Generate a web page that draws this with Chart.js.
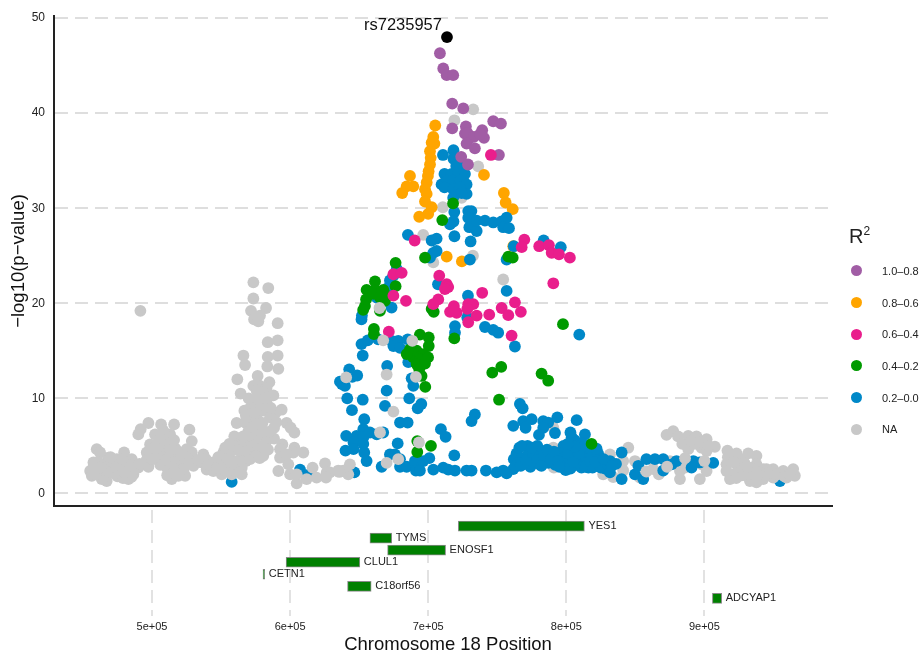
<!DOCTYPE html>
<html>
<head>
<meta charset="utf-8">
<title>Chromosome 18 regional association plot</title>
<script src="https://cdn.jsdelivr.net/npm/chart.js@4"></script>
<style>
  body { margin: 0; background: #fff; }
  #wrap { position: relative; width: 920px; height: 655px; font-family: "Liberation Sans", Arial, sans-serif; }
  #topBox { position: absolute; left: 0; top: 0; width: 920px; height: 522px; }
  #geneBox { position: absolute; left: 0; top: 505px; width: 920px; height: 150px; }
  #legend { position: absolute; left: 849px; top: 226px; color: #222; }
  #legend .ttl { font-size: 20px; height: 29px; line-height: 20px; }
  #legend .ttl sup { font-size: 12px; line-height: 0; }
  #legend .row { height: 31.7px; display: flex; align-items: center; font-size: 11px; }
  #legend .dot { width: 11px; height: 11px; border-radius: 50%; margin: 0 20px 0 2px; }
</style>
</head>
<body>
<div id="wrap">
  <div id="topBox"><canvas id="assocChart"></canvas></div>
  <div id="geneBox"><canvas id="geneChart"></canvas></div>
  <div id="legend"></div>
</div>
<script>
// all positions are [kb, -log10 p]
const leadSnp = [[713.6, 48.0]];
const leadName = "rs7235957";

const purple = [[708.5,46.3],[710.9,44.7],[713.4,44.0],[718.1,44.0],[717.4,41.0],[725.4,40.5],[717.4,38.4],[727.3,38.6],[726.6,37.85],
  [730.2,37.4],[728.5,37.9],[733.1,37.5],[739.1,38.2],[740.4,37.4],[737.5,37.8],[727.8,36.8],[733.8,36.3],[747.1,39.15],[752.7,38.9],
  [751.2,35.6],[723.9,35.4],[728.8,34.6]];

const orange = [[705.1,38.7],[703.7,37.5],[702.5,36.9],[704.5,36.8],[701.3,36.0],[701.8,35.3],[701.3,34.6],[700.3,33.9],[699.8,33.4],
  [686.8,33.4],[698.9,32.7],[697.7,32.0],[689.2,32.3],[684.4,32.3],[681.2,31.6],[698.9,31.5],[697.7,30.7],[702.5,30.1],[700,29.4],
  [693.5,29.1],[740.4,33.5],[754.8,31.6],[756.1,30.6],[761.2,29.9],[713.4,24.9],[724.4,24.4],[761.6,26.0]];

const pink = [[745.4,35.6],[690.2,26.6],[769.6,26.7],[767.7,25.9],[780.4,26],[787.4,26.1],[789.4,25.3],[794.7,25.15],[802.6,24.8],
  [674.8,23.05],[680.8,23.2],[674.8,20.8],[683.9,20.25],[708,22.9],[713.4,22],[714.5,21.7],[712.1,21.5],[707.3,20.4],[703.7,19.9],
  [790.6,22.1],[739.1,21.1],[762.8,20.1],[753.2,19.5],[758,18.75],[767.1,19.1],[744.2,18.8],[760.4,16.6],[729,19.9],[732.6,19.9],
  [728.3,19.4],[735.1,18.7],[729,18],[718.6,19.7],[715.8,19.1],[720.6,19],[718.6,19.2],[671.5,17]];

const green = [[718,30.5],[710.2,28.75],[697.7,24.8],[758,24.9],[761.2,24.8],[676.4,24.25],[661.5,22.3],[655.4,21.4],[661.5,21.4],[667.5,21.4],
  [676.4,21.8],[655,20.4],[660.3,21],[665.1,20.6],[670,20.8],[668.7,20.25],[654.2,19.7],[652.9,19.3],[665.1,19.2],[660.7,17.3],[660.7,16.75],
  [718.9,16.3],[797.6,17.8],[704,19.1],[702.5,19.4],[752.9,13.3],[746.4,12.7],[782.1,12.6],[786.9,11.85],[751.3,9.85],[697.9,11.2],
  [702,5],[692.1,5.5],[692.1,4.35],[818.3,5.2],[694,16.7],[700.4,16.4],[700.4,15.5],[686.8,15.15],[691.6,15],[696.4,14.65],[689.2,14.3],
  [694,14.1],[699.9,14.3],[691.6,13.6],[697.7,13.65],[693.5,13.05],[695.2,12.35],[684.4,14.65]];

const blue = [[710.7,35.6],[718.3,36.1],[718.3,35.2],[720.3,34.45],[725,34.6],[711.8,33.6],[717,33.6],[721.7,33.6],[726.6,33.6],
  [709.7,32.5],[713.4,32.9],[718.1,32.9],[723,32.9],[727.8,32.5],[711.8,32.2],[718.1,32],[723,32.2],[727.8,31.5],[718.1,31.1],[724.2,31.6],
  [718.9,29.6],[729,29.7],[731.3,29.7],[729,29],[718.3,28.6],[715.8,28.3],[729.8,28],[735.1,27.6],[735.1,28.7],[741.1,28.7],[747.1,28.5],
  [753.2,28.6],[756.8,29],[754.3,28],[758.5,27.9],[685.3,27.2],[719,27.05],[730.7,26.5],[702.5,26.6],[706.1,26.8],[703.7,25.3],[706.1,25.5],
  [701.3,24.8],[730.2,24.6],[756.8,24.6],[762,26],[783.6,26.6],[796,25.9],
  [677.2,23.6],[674.8,22.9],[672.3,22.4],[671.1,21.65],[662.7,20.6],[673.5,19.55],[651.7,18.3],[652,18.7],
  [707.1,22],[756.8,21.3],[728.8,20.8],[719.4,17.6],[719.4,16.9],[728.3,18.5],[741.1,17.5],[747.1,17.2],[750.7,16.9],[762.8,15.45],[809.4,16.7],
  [651.7,15.7],[656.2,16.1],[663.8,16.2],[673.5,16.05],[678.3,16.05],[685.2,16.2],[674.8,15.5],[679.6,15.3],[652.6,14.5],[670.3,13.4],
  [642.8,13.05],[648.6,12.4],[645,12.25],[636.1,11.75],[639.7,11.3],[637.5,11.5],[685.6,13.8],[688,12.1],[689.2,11.3],[669.9,10.8],
  [641.4,10],[652.6,9.85],[686.3,10],[668.7,9.2],[644.8,8.75],[695,9.4],[692.4,8.95],[733.8,8.3],[731.4,7.6],[653.7,7.8],[679.6,7.45],[685.1,7.45],
  [709.2,6.75],[712.6,5.95],[653,6.75],[657.8,6.4],[662.7,6.2],[667.4,6.4],[640.6,6.05],[648.1,6.05],[653,5.9],[645.9,5.35],[653,5.2],
  [640.1,4.5],[645.9,4.65],[653.7,4.3],[655.4,3.4],[677.9,5.25],[718.9,4],[666.3,2.8],[672.3,4.1],[675.9,4.1],[679.6,3.6],[679.6,2.8],[684.4,2.8],
  [690.4,3.4],[691.1,2.4],[694,2.4],[696.4,3.4],[700.8,3.7],[703.7,2.5],[710.9,2.7],[714.5,2.5],[719.4,2.4],[727.8,2.4],[731.4,2.4],[741.8,2.4],
  [749.6,2.2],[754.3,2.4],[756.8,2.1],[761.6,2.55],[646.5,2.2],[557.7,1.2],[607.2,2.5],[613.2,1.95],
  [766.4,9.4],[768.4,8.95],[761.6,7.1],[768.8,7.6],[774.9,7.8],[770.5,6.9],[783.3,7.6],[786.9,7.45],[793.5,8],[807.5,7.7],[783.3,6.9],[780.2,6.15],
  [791.8,6.35],[813.5,6.2],[803.9,5.9],[799.6,2.45],[799,2.55],
  [762,3.6],[764,4.2],[766,4.8],[768,3.7],[772,4],[775,3.6],[778,3.3],[780,3.9],[783,4.4],[785,3.5],[788,4.1],[790,3.3],[793,3.8],[796,4.2],
  [798,5],[800,3.6],[802,3],[804,4.4],[806,5.6],[808,3.7],[810,4.8],[812,3.3],[813,4.1],[815,3.6],[816,2.7],[818,4.6],[820,3.5],[822,2.9],
  [824,3.8],[826,3.2],[828,2.6],[765,3.2],[770,3.1],[774,2.8],[781,3],[787,3.2],[792,3],[797,3.1],[803,3.5],[807,3],[811,2.7],[814,2.8],[819,2.7],
  [763,2.8],[767,2.9],[771,3.5],[776,4.2],[779,3.5],[782,2.9],[784,4],[786,4.6],[789,3.6],[791,4.4],[794,3.4],[795,2.8],[799,4.5],[801,4.2],[803,2.6],
  [805,3.3],[809,4.2],[811,5.3],[807,5],[814,5.1],[817,3.4],[819,4],[823,4.2],[825,2.7],[821,3.3],[803,6.4],[806,4.9],[801,5.2],[829,3.2],[836,3.1],
  [772,5],[779,5],[768,5],[775,4.8],
  [821.9,4.7],[831.6,3.4],[831.6,2.2],[840.1,1.5],[849.7,2],[852.2,2.9],[858,3.6],[855.7,1.5],[864.2,3.6],[870.2,3.6],[870.2,2.4],[876.3,3.05],
  [879.8,3.4],[892,3.4],[896.7,3.25],[890.7,2.7],[906.4,3.2],[954.7,1.3],[840.1,4.3],[827,3.6],[833,2.9]];

// grey dots that sit behind everything else
const naBack = [[732.6,40.4],[719,39.25],[736.2,34.4],[710.6,30.1],[696.4,27.2],[732.4,25],[724.2,31.1],[703.7,24.3],[754.3,22.5],[790.6,4.8],
  [791,2.7],[790.6,6.9],[815.7,4.3],[844.9,4.8],[831.6,4.1],[841.2,3.4],[841.2,2.4],[826.7,2],[834,1.7],[849.7,3.4],[853.3,1.65],[862.9,3.4],
  [862.9,2.55],[867,2],[875,3.4],[882.3,2.35],[882.3,1.5],[885.9,2.7],[896.7,1.5],[901.6,2.35],[898,3.05]];

// grey dots that cover the blue ones
const naFront = [[664.7,19.5],[667.4,16.1],[688.5,16.05],[691.1,12.25],[669.9,12.5],[640.6,12.2],[674.8,8.6],[665.1,6.4],[693.3,5.35],[669.9,3.2],
  [678.3,3.6],[642.1,2],[638.5,2.4],[643.3,3.05],[634.9,2.4],[628.9,2.2],
  [491.6,19.2],[573.4,22.2],[584.2,21.6],[573.4,20.5],[582.6,19.5],[571.7,19.2],[578.2,18.7],[573.9,18.3],[577,18.1],[591,17.9],[591,16.1],[583.8,15.9],
  [591,14.5],[583.8,14.35],[566.2,14.5],[567.4,13.5],[583.5,13.35],[591.5,13.1],[561.8,12],[576.5,12.35],[585,11.7],[573.4,11.3],[578.2,11.3],[583,11.1],
  [575.8,10.8],[580.6,10.6],[564.2,10.5],[587.9,10.3],[573.4,9.7],[578.2,9.4],[583,9.55],[571,9],[575.8,8.85],[580.6,8.7],[566.9,8.7],[593.9,8.8],[589.6,8.5],
  [575.8,8],[571,7.6],[585.5,8],[561.3,7.4],[567.4,7.45],[597.5,7.4],[600.4,6.9],[603.1,6.4],[588.4,6.9],[497.4,7.4],[491.8,6.75],[490.1,6.2],[506.6,7.25],
  [516,7.25],[527.1,6.7],[528.8,5.5],[513.1,6.2],[502.2,6.2],[508.2,6.6],[569.8,6.55],[575.8,6.2],[559.6,6],[580.6,6.05],[588.4,5.75],[571,5.5],[561.3,5.15],
  [566.2,5.15],[575.8,5.15],[580.6,5],[594.4,5.15],[603.1,4.8],[498.6,5.15],[503.4,5.15],[508.2,5.15],[513.1,5.15],[496.2,4.3],[501,4.3],[505.8,4.45],[510.7,4.3],
  [515.5,4.1],[520.3,4.3],[525.1,4.65],[528.8,4.3],[479.8,4.3],[460,4.65],[462.4,4.3],[468.4,3.75],[474.5,3.6],[485.3,3.6],[457.6,3.25],[464.8,3.05],[472,2.9],
  [479,3.4],[455.2,2.35],[456.4,1.85],[460,2.35],[464.8,2],[468.4,2.35],[473.3,2.35],[478.1,2.7],[484.1,2.7],[486.5,2],[482.9,1.5],[467.2,1.3],[463.6,1.5],
  [476.9,2],[490.1,2.7],[457.6,2.7],[470,3],[482,3],[496.2,3.55],[497.4,2.8],[510.7,2.7],[508.2,3.4],[515.5,3.25],[521.5,3.25],[525.1,3.75],[530,2.9],[513.1,2],
  [514.3,1.5],[519.1,1.85],[524,1.85],[537.2,4.1],[536,3.25],[539.6,2.5],[544.4,3.25],[544.4,2.35],[551.7,4.3],[550.5,3.4],[550.5,2],[556.5,2.7],[557.7,2],[565,2],
  [565,2.7],[561.3,3.4],[556.5,4.3],[566.2,3.95],[571,4.1],[580.6,3.95],[559.4,5],[592.7,4.65],[592.7,3.75],[602.4,4.3],[597.5,4.1],[609.6,4.3],[598.7,3.05],
  [591.5,2.35],[600,2],[604.8,1.05],[612,1.5],[604.8,2],[616.3,2.7],[619.2,1.65],[625.3,3.15],[626.5,2.2],[626,1.65],[635.6,2.25],
  [458,3],[461,3.3],[466,2.5],[470,2.2],[474,3],[478,3.6],[481,2.3],[485,3],[488,2.6],[491,3.1],[459,2],[462,2.7],[475,1.8],[479,1.6],[485,1.7],[470,3.8],[480,2.2],
  [499,4.6],[503,3.6],[506,3],[510,3.5],[512,4.8],[517,4.7],[518,3.2],[522,4],[519,2.6],[523,2.6],[514,2.7],[511,1.9],[516,2.3],[500,3.6],[505,5],[510,5.6],[516,5.6],
  [506,5.8],[527,3.4],[533,3.5],[539,3.6],[541,3],[547,2.7],[548,3.8],[553,3],[553,2.4],[555,3.6],[558,3],[560,2.4],[563,2.2],[553,4.8],[556,5.2],[563,4.5],[568,3.4],
  [570,4.8],[573,5],[577,4.6],[566,6],[572,6.3],[578,6.8],[583,5.5],[573,7],[580,7.4],[568,8.2],[574,8.5],[585,6.5],[571,3.6],[575,3.9],[584,4.6],[578,3.7],[586,9],
  [590,7.5],[581,9.3],[576,9.9],[570,10],[582,10],
  [877.4,6.55],[872.6,6.15],[880.9,6],[888.3,6.05],[894.3,6],[901.6,5.7],[893.1,5.2],[888.3,4.65],[897.9,4.8],[907.6,4.9],[901.6,4.45],[916.7,4.5],[923.3,4.2],
  [931.7,4.2],[937.7,3.95],[937.7,3.05],[916,3.05],[923.3,3.05],[916,2.35],[920.9,2],[926.9,2.35],[918.5,1.5],[933,1.65],[937.7,1.15],[942.6,1.5],[949.8,1.65],
  [957.1,2.35],[964.3,2.55],[965.5,1.85],[959.5,1.65],[949.8,2.55],[945,2.55],[942.6,2.55],[933,1.3],[930.5,1.85],[886,3.7],[900,3.4],[858,2.3],[873,2.8],
  [926,3.6],[929,3.2],[935,2.6],[940,2.2],[944,1.9],[948,2.2],[953,2],[958,1.8],[962,2],[917,3.8],[921,3.3],[927,1.9],[923,1.6],[938,2],[931,2.8],[884,5.2],[890,5.5],
  [897,5.4],[903,5]];

const geneNames = ["YES1", "TYMS", "ENOSF1", "CLUL1", "CETN1", "C18orf56", "ADCYAP1"];
const geneStart = [721.8, 657.8, 670.6, 597.1, 580.4, 641.6, 905.8];
const geneEnd = [813.1, 673.6, 712.6, 650.5, 581.6, 658.7, 912.5];

const xTickValues = [500000, 600000, 700000, 800000, 900000];
const yTitle = "\u2212log10(p\u2212value)";
const xTitle = "Chromosome 18 Position";
const legendTitle = "R";
const legendLabels = ["1.0\u20130.8", "0.8\u20130.6", "0.6\u20130.4", "0.4\u20130.2", "0.2\u20130.0", "NA"];
const legendColors = ["#a15da5", "#ffa500", "#e91e8c", "#009a00", "#0088c8", "#c8c8c8"];

const FONT = '"Liberation Sans", Arial, sans-serif';
const X_MIN = 429040;
const X_MAX = 992400;

function toPoints(list) {
  return list.map(p => ({ x: p[0] * 1000, y: p[1] }));
}

function dots(label, list, color) {
  return { label: label, data: toPoints(list), backgroundColor: color, borderWidth: 0, pointRadius: 5.9, pointHoverRadius: 5.9 };
}

// name next to the lead snp
const leadLabel = {
  id: "leadLabel",
  afterDatasetsDraw(chart) {
    const px = chart.scales.x.getPixelForValue(leadSnp[0][0] * 1000);
    const py = chart.scales.y.getPixelForValue(leadSnp[0][1]);
    const ctx = chart.ctx;
    ctx.save();
    ctx.font = "16.5px " + FONT;
    ctx.fillStyle = "#111";
    ctx.textAlign = "right";
    ctx.textBaseline = "middle";
    ctx.fillText(leadName, px - 5, py - 12);
    ctx.restore();
  }
};

// gene names beside the bars, and the axis title which sits a bit right of centre
const geneLabels = {
  id: "geneLabels",
  afterDatasetsDraw(chart) {
    const ctx = chart.ctx;
    ctx.save();
    ctx.font = "11px " + FONT;
    ctx.fillStyle = "#222";
    ctx.textBaseline = "middle";
    geneNames.forEach((name, i) => {
      const px = chart.scales.x.getPixelForValue(geneEnd[i] * 1000);
      const py = chart.scales.y.getPixelForValue(i);
      ctx.fillText(name, px + 4, py);
    });
    ctx.font = "18.5px " + FONT;
    ctx.fillStyle = "#111";
    ctx.textAlign = "center";
    ctx.fillText(xTitle, 448, 140);
    ctx.restore();
  }
};

new Chart(document.getElementById("assocChart"), {
  type: "scatter",
  data: {
    // first dataset ends up on top
    datasets: [
      dots("lead", leadSnp, "#000"),
      dots("NA", naFront, "#c8c8c8"),
      dots("0.6-0.4", pink, "#e91e8c"),
      dots("0.4-0.2", green, "#009a00"),
      dots("1.0-0.8", purple, "#a15da5"),
      dots("0.2-0.0", blue, "#0088c8"),
      dots("0.8-0.6", orange, "#ffa500"),
      dots("NA", naBack, "#c8c8c8")
    ]
  },
  plugins: [leadLabel],
  options: {
    responsive: true,
    maintainAspectRatio: false,
    animation: false,
    layout: { padding: { top: 15, right: 88, bottom: 4 } },
    plugins: { legend: { display: false }, tooltip: { enabled: false } },
    scales: {
      x: {
        type: "linear",
        min: X_MIN,
        max: X_MAX,
        grid: { display: false },
        border: { color: "#222", width: 2 },
        ticks: { display: false },
        afterFit(scale) { scale.height = 1; }
      },
      y: {
        min: -1.31,
        max: 50.2,
        grid: { color: "#dedede", lineWidth: 2, drawTicks: false },
        border: { color: "#222", width: 2, dash: [13, 7] },
        ticks: {
          stepSize: 10,
          includeBounds: false,
          padding: 9,
          color: "#222",
          font: { family: FONT, size: 12 }
        },
        title: { display: true, text: yTitle, color: "#111", font: { family: FONT, size: 18.5 }, padding: { top: 8, bottom: 0 } },
        afterFit(scale) { scale.width = 54; }
      }
    }
  }
});

new Chart(document.getElementById("geneChart"), {
  type: "bar",
  data: {
    datasets: [{
      data: geneNames.map((name, i) => ({ x: [geneStart[i] * 1000, geneEnd[i] * 1000], y: i })),
      backgroundColor: "#008000",
      borderColor: "#8a8a8a",
      borderWidth: 1,
      borderSkipped: false,
      barThickness: 10
    }]
  },
  plugins: [geneLabels],
  options: {
    indexAxis: "y",
    responsive: true,
    maintainAspectRatio: false,
    animation: false,
    layout: { padding: { top: 5, left: 54, right: 88, bottom: 16 } },
    plugins: { legend: { display: false }, tooltip: { enabled: false } },
    scales: {
      x: {
        type: "linear",
        min: X_MIN,
        max: X_MAX,
        afterBuildTicks(scale) { scale.ticks = xTickValues.map(v => ({ value: v })); },
        grid: { color: "#e2e2e2", lineWidth: 2, drawTicks: false },
        border: { display: false, dash: [13, 7] },
        ticks: {
          maxRotation: 0,
          padding: 5,
          color: "#222",
          font: { family: FONT, size: 11 },
          callback: v => (v / 100000) + "e+05"
        }
      },
      y: {
        type: "linear",
        reverse: true,
        display: false,
        offset: false,
        min: -1.34,
        max: 7.45
      }
    }
  }
});

// legend is plain html so the superscript stays a real superscript
const legendBox = document.getElementById("legend");
legendBox.innerHTML = '<div class="ttl">' + legendTitle + "<sup>2</sup></div>" +
  legendLabels.map((t, i) => '<div class="row"><span class="dot" style="background:' + legendColors[i] + '"></span>' + t + "</div>").join("");
</script>
</body>
</html>
